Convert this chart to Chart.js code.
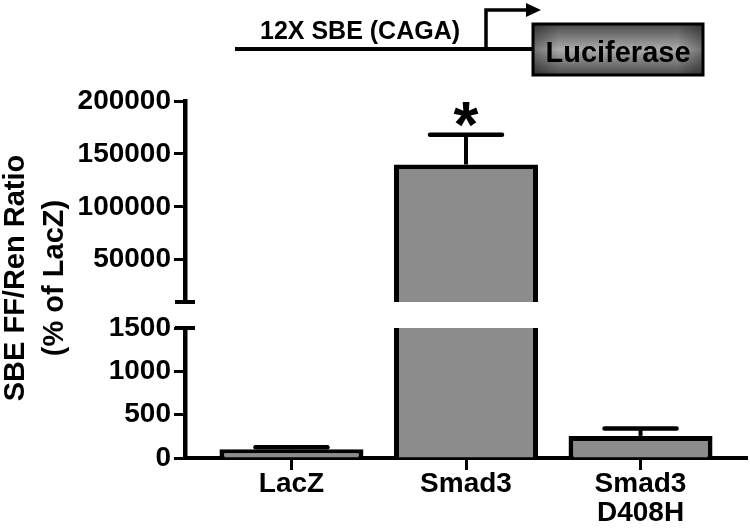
<!DOCTYPE html>
<html>
<head>
<meta charset="utf-8">
<script src="https://cdn.jsdelivr.net/npm/chart.js@4.4.1/dist/chart.umd.min.js"></script>
<style>
body { margin: 0; background: #fff; }
#wrap { position: relative; width: 750px; height: 532px; }
#wrap canvas { position: absolute; left: 0; top: 0; }
</style>
</head>
<body>
<div id="wrap">
  <canvas id="upper" width="750" height="532"></canvas>
  <canvas id="lower" width="750" height="532"></canvas>
</div>
<script>
// data
const groups = [['LacZ'], ['Smad3'], ['Smad3', 'D408H']];
const means = [100, 140000, 255];
const errors = [25, 28000, 85];
const marks = ['', '*', ''];
const lowTicks = [0, 500, 1000, 1500];
const highTicks = [50000, 100000, 150000, 200000];
const yTitle = ['SBE FF/Ren Ratio', '(% of LacZ)'];

const FONT = '"Liberation Sans", Arial, sans-serif';

// error bars (upward only) + significance mark
const errorBars = {
    id: 'errorBars',
    afterDatasetsDraw(chart) {
        let {ctx, chartArea: a} = chart;
        let y = chart.scales.y;
        let meta = chart.getDatasetMeta(0);
        let starAt = [];
        ctx.save();
        ctx.beginPath();
        ctx.rect(a.left, a.top - 3, a.right - a.left, a.bottom - a.top + 3);
        ctx.clip();
        ctx.strokeStyle = '#000';
        meta.data.forEach((bar, i) => {
            let y0 = y.getPixelForValue(means[i]);
            let y1 = y.getPixelForValue(means[i] + errors[i]);
            ctx.lineWidth = 4;
            ctx.lineCap = 'butt';
            ctx.beginPath();
            ctx.moveTo(bar.x, y0);
            ctx.lineTo(bar.x, y1);
            ctx.stroke();
            ctx.lineWidth = 4.5;
            ctx.lineCap = 'round';
            ctx.beginPath();
            ctx.moveTo(bar.x - 36, y1);
            ctx.lineTo(bar.x + 36, y1);
            ctx.stroke();
            if (marks[i] && y1 >= a.top && y1 <= a.bottom) starAt.push([marks[i], bar.x, y1]);
        });
        ctx.restore();

        ctx.save();
        ctx.font = 'bold 64px ' + FONT;
        ctx.fillStyle = '#000';
        ctx.textAlign = 'center';
        ctx.textBaseline = 'alphabetic';
        for (let [t, x, yy] of starAt) {
            let m = ctx.measureText(t);
            ctx.fillText(t, x, yy - 8 - m.actualBoundingBoxDescent);
        }
        ctx.restore();
    }
};

// small caps on the axis where it is broken
function breakCap(edge) {
    return {
        id: 'breakCap',
        afterDraw(chart) {
            let {ctx, chartArea: a} = chart;
            let yy = edge == 'bottom' ? a.bottom : a.top;
            ctx.save();
            ctx.strokeStyle = '#000';
            ctx.lineWidth = 4;
            ctx.beginPath();
            ctx.moveTo(a.left - 10, yy);
            ctx.lineTo(a.left + 10, yy);
            ctx.stroke();
            ctx.restore();
        }
    };
}

// promoter diagram and y title (drawn on the upper canvas)
const decor = {
    id: 'decor',
    afterDraw(chart) {
        let ctx = chart.ctx;
        ctx.save();
        ctx.strokeStyle = '#000';
        ctx.fillStyle = '#000';

        // DNA line
        ctx.lineWidth = 4;
        ctx.beginPath();
        ctx.moveTo(235, 49);
        ctx.lineTo(533, 49);
        ctx.stroke();

        // bent arrow
        ctx.lineWidth = 3.5;
        ctx.beginPath();
        ctx.moveTo(486, 49);
        ctx.lineTo(486, 10);
        ctx.lineTo(528, 10);
        ctx.stroke();
        ctx.beginPath();
        ctx.moveTo(526, 3);
        ctx.lineTo(541, 10);
        ctx.lineTo(526, 17);
        ctx.closePath();
        ctx.fill();

        ctx.font = 'bold 25px ' + FONT;
        ctx.textAlign = 'center';
        ctx.textBaseline = 'alphabetic';
        ctx.fillText('12X SBE (CAGA)', 360, 39);

        // luciferase box
        let bx = 533, by = 24, bw = 170, bh = 51;
        let g = ctx.createLinearGradient(0, by, 0, by + bh);
        g.addColorStop(0, '#4a4a4a');
        g.addColorStop(0.5, '#ababab');
        g.addColorStop(1, '#4a4a4a');
        ctx.fillStyle = g;
        ctx.fillRect(bx, by, bw, bh);
        let h = ctx.createLinearGradient(bx, 0, bx + bw, 0);
        h.addColorStop(0, 'rgba(0,0,0,0.35)');
        h.addColorStop(0.15, 'rgba(0,0,0,0)');
        h.addColorStop(0.85, 'rgba(0,0,0,0)');
        h.addColorStop(1, 'rgba(0,0,0,0.35)');
        ctx.fillStyle = h;
        ctx.fillRect(bx, by, bw, bh);
        ctx.lineWidth = 3;
        ctx.strokeRect(bx, by, bw, bh);
        ctx.fillStyle = '#000';
        ctx.font = 'bold 29px ' + FONT;
        ctx.fillText('Luciferase', bx + bw / 2, 62);

        // y title
        ctx.translate(16, 278);
        ctx.rotate(-Math.PI / 2);
        ctx.font = 'bold 29px ' + FONT;
        ctx.textBaseline = 'middle';
        ctx.fillText(yTitle[0], 0, 0);
        ctx.fillText(yTitle[1], 0, 39);
        ctx.restore();
    }
};

function makeChart(id, yMin, yMax, tickVals, pad, showX, edge) {
    let ctx = document.getElementById(id).getContext('2d');
    let plugins = [errorBars, breakCap(edge)];
    if (id == 'upper') plugins.push(decor);
    return new Chart(ctx, {
        type: 'bar',
        data: {
            datasets: [{
                data: means.map((v, i) => ({x: i, y: v})),
                backgroundColor: '#8c8c8c',
                borderColor: '#000',
                borderWidth: 5,
                borderSkipped: 'start',
                barPercentage: 0.825,
                categoryPercentage: 1,
                clip: 0
            }]
        },
        options: {
            responsive: false,
            animation: false,
            layout: {padding: pad},
            plugins: {legend: {display: false}, tooltip: {enabled: false}},
            scales: {
                x: {
                    type: 'linear',
                    min: -0.61,
                    max: 2.61,
                    offset: false,
                    display: showX,
                    z: 1,
                    afterBuildTicks: s => { s.ticks = groups.map((g, i) => ({value: i})); },
                    afterFit: s => { if (showX) s.height = 74; },
                    ticks: {
                        callback: v => groups[v],
                        color: '#000',
                        font: {family: FONT, size: 28, weight: 'bold', lineHeight: 1.02},
                        padding: 0,
                        maxRotation: 0,
                        autoSkip: false
                    },
                    grid: {offset: false, drawOnChartArea: false, tickLength: 12, tickWidth: 3, tickColor: '#000'},
                    border: {display: true, width: 4, color: '#000'}
                },
                y: {
                    min: yMin,
                    max: yMax,
                    afterBuildTicks: s => { s.ticks = tickVals.map(v => ({value: v})); },
                    afterFit: s => { s.width = 185; },
                    ticks: {
                        callback: v => String(v),
                        color: '#000',
                        font: {family: FONT, size: 28, weight: 'bold'},
                        padding: 3
                    },
                    grid: {drawOnChartArea: false, tickLength: 11, tickWidth: 3, tickColor: '#000'},
                    border: {display: true, width: 4.5, color: '#000'}
                }
            }
        },
        plugins: plugins
    });
}

makeChart('upper', 10000, 200000, highTicks, {top: 101, bottom: 230, left: 0, right: 3}, false, 'bottom');
makeChart('lower', 0, 1500, lowTicks, {top: 328, bottom: 0, left: 0, right: 3}, true, 'top');
</script>
</body>
</html>
